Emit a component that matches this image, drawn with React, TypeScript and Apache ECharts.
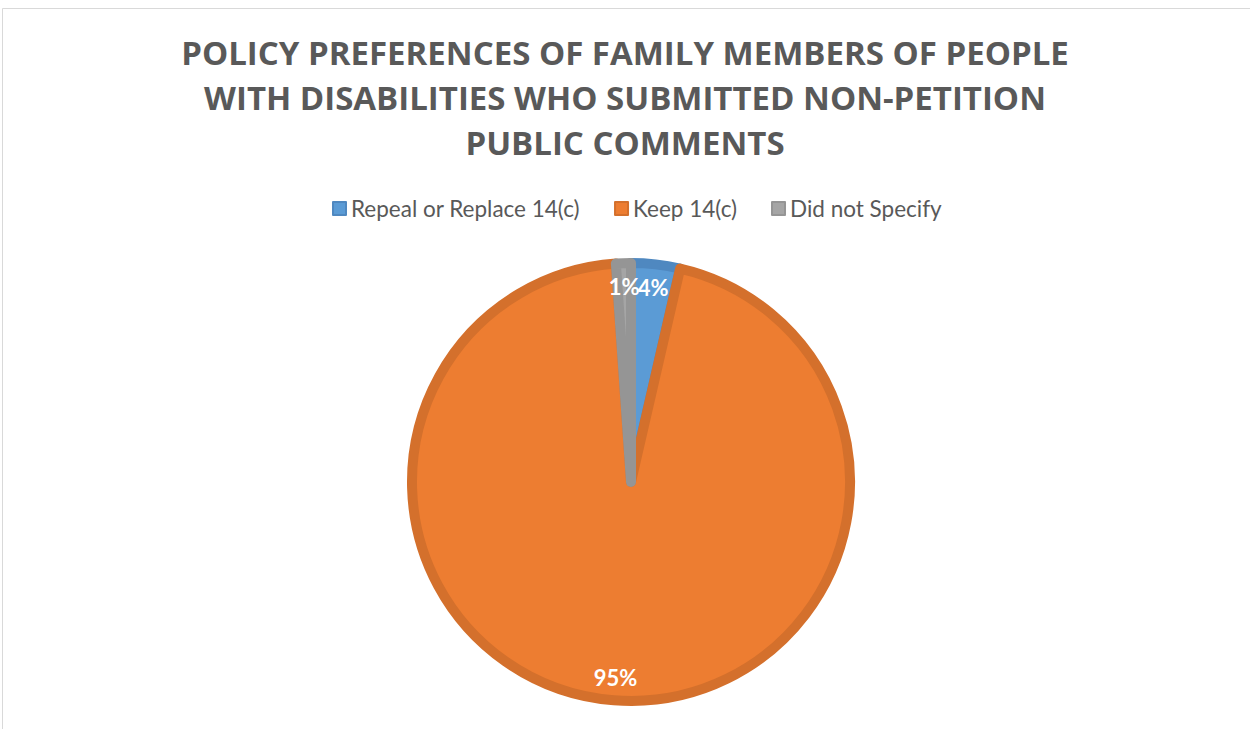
import React, { useEffect, useRef } from "react";
import * as echarts from "echarts";

const categories = ["Repeal or Replace 14(c)", "Keep 14(c)", "Did not Specify"];
const shares = [3.6, 95.3, 1.1];
const fillColors = ["#5B9BD5", "#ED7D31", "#A5A5A5"];
const edgeColors = ["#4F88C0", "#D4702C", "#959595"];
const titleLines = [
  "POLICY PREFERENCES OF FAMILY MEMBERS OF PEOPLE",
  "WITH DISABILITIES WHO SUBMITTED NON-PETITION",
  "PUBLIC COMMENTS",
];

export default function App() {
  const ref = useRef<HTMLDivElement>(null);
  useEffect(() => {
    if (!ref.current) return;
    const chart = echarts.init(ref.current, undefined, { renderer: "svg" });
    const data = categories.map((name, i) => ({
      name,
      value: shares[i],
      itemStyle: { color: fillColors[i], borderColor: edgeColors[i], borderWidth: 10 },
    }));
    chart.setOption({
      animation: false,
      backgroundColor: "#ffffff",
      title: {
        text: titleLines.join("\n"),
        left: "center",
        top: 30,
        padding: 0,
        textStyle: {
          fontFamily: "Open Sans",
          fontWeight: "bold",
          fontSize: 33,
          lineHeight: 45,
          color: "#595959",
        },
      },
      legend: {
        data: categories,
        top: 192,
        left: 327,
        itemWidth: 13,
        itemHeight: 13,
        itemGap: 34,
        icon: "rect",
        textStyle: { fontFamily: "Lato", fontSize: 22.5, color: "#595959" },
      },
      graphic: [
        {
          type: "rect",
          shape: { x: 2.5, y: 8.5, width: 1300, height: 800 },
          style: { fill: "none", stroke: "#D9D9D9", lineWidth: 1 },
          silent: true,
        },
      ],
      series: [
        {
          type: "pie",
          center: [631, 482],
          radius: [0, 219],
          startAngle: 90,
          clockwise: true,
          label: { show: false },
          labelLine: { show: false },
          emphasis: { disabled: true },
          data,
        },
        {
          type: "pie",
          center: [631, 482],
          radius: [0, 386],
          startAngle: 90,
          clockwise: true,
          silent: true,
          avoidLabelOverlap: false,
          labelLayout: { hideOverlap: false },
          itemStyle: { color: "rgba(0,0,0,0)", borderWidth: 0 },
          label: {
            show: true,
            position: "inside",
            color: "#ffffff",
            fontFamily: "Lato",
            fontWeight: "bold",
            fontSize: 22,
            formatter: (p: any) => Math.round(p.percent) + "%",
          },
          labelLine: { show: false },
          emphasis: { disabled: true },
          data: categories.map((name, i) => ({ name, value: shares[i] })),
        },
      ],
    });
    return () => chart.dispose();
  }, []);
  return (
    <div
      ref={ref}
      style={{ position: "absolute", left: 0, top: 0, width: 1250, height: 729 }}
    />
  );
}
